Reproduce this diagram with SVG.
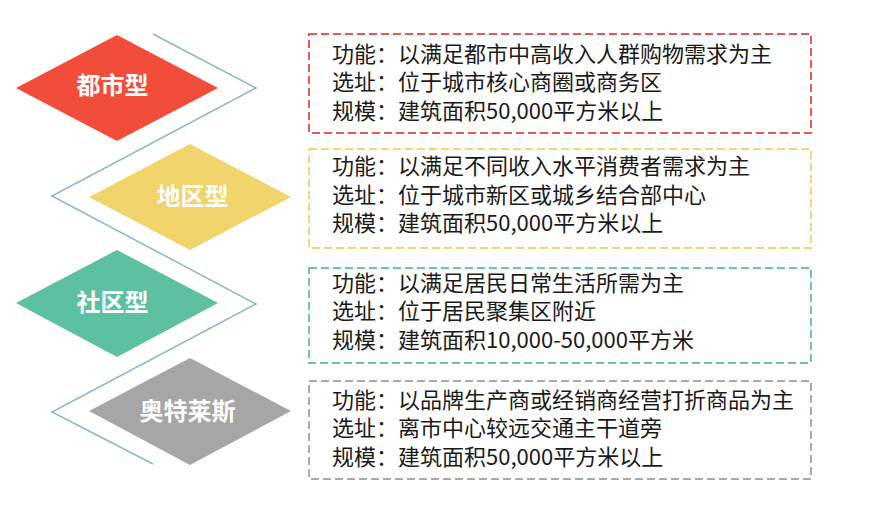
<svg xmlns="http://www.w3.org/2000/svg" width="880" height="509" viewBox="0 0 880 509">
<style>
.lbl{font-family:"Noto Sans CJK SC","Noto Sans",sans-serif;font-size:24px;font-weight:bold;fill:#fff;text-anchor:middle}
.txt{font-family:"Noto Sans CJK SC","Noto Sans",sans-serif;font-size:22px;fill:#1a1a1a}
.box{fill:none;stroke-width:2;stroke-dasharray:8 4}
.conn{fill:none;stroke:#86B8CE;stroke-width:1.5}
</style>
<rect width="880" height="509" fill="#fff"/>
<g id="connectors">
<polyline class="conn" points="153,34 256,88 52,196 256,304 52,412 153,464"/>
</g>
<g id="node-dushi">
<polygon points="16,88 117,35 218,88 117,141" fill="#F24C3B"/>
<text class="lbl" x="112.5" y="94">都市型</text>
</g>
<g id="node-diqu">
<polygon points="89,197 190,144 291,197 190,250" fill="#F2D46C"/>
<text class="lbl" x="192.5" y="205">地区型</text>
</g>
<g id="node-shequ">
<polygon points="16,303 117,250 218,303 117,357" fill="#5DC1A1"/>
<text class="lbl" x="112.5" y="311">社区型</text>
</g>
<g id="node-aotelaisi">
<polygon points="89,411 190,358 291,411 190,465" fill="#A6A6A6"/>
<text class="lbl" x="187.5" y="420">奥特莱斯</text>
</g>
<g id="box-dushi">
<rect class="box" x="309" y="34" width="502" height="99" stroke="#E15A55"/>
<text class="txt" x="332" y="61.5">功能：以满足都市中高收入人群购物需求为主</text>
<text class="txt" x="332" y="90">选址：位于城市核心商圈或商务区</text>
<text class="txt" x="332" y="118.5">规模：建筑面积50,000平方米以上</text>
</g>
<g id="box-diqu">
<rect class="box" x="309" y="149" width="502" height="99" stroke="#F2D574"/>
<text class="txt" x="332" y="174">功能：以满足不同收入水平消费者需求为主</text>
<text class="txt" x="332" y="202.5">选址：位于城市新区或城乡结合部中心</text>
<text class="txt" x="332" y="231">规模：建筑面积50,000平方米以上</text>
</g>
<g id="box-shequ">
<rect class="box" x="309" y="268" width="502" height="95" stroke="#6EC4AA"/>
<text class="txt" x="332" y="290.5">功能：以满足居民日常生活所需为主</text>
<text class="txt" x="332" y="318.5">选址：位于居民聚集区附近</text>
<text class="txt" x="332" y="347.5">规模：建筑面积10,000-50,000平方米</text>
</g>
<g id="box-aotelaisi">
<rect class="box" x="309" y="381" width="502" height="98" stroke="#ABABAB"/>
<text class="txt" x="332" y="407.5">功能：以品牌生产商或经销商经营打折商品为主</text>
<text class="txt" x="332" y="435.5">选址：离市中心较远交通主干道旁</text>
<text class="txt" x="332" y="464.5">规模：建筑面积50,000平方米以上</text>
</g>
</svg>
